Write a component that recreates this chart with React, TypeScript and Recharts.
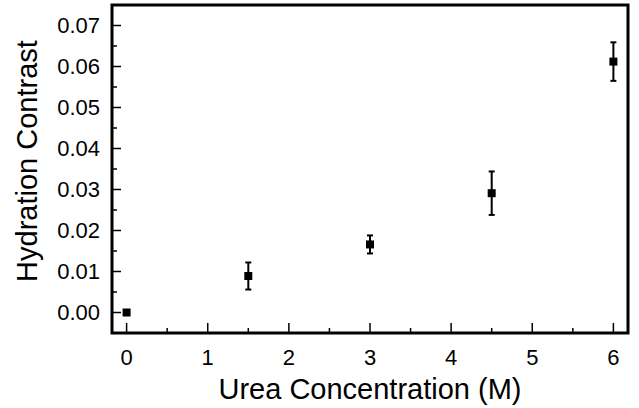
import {
  ScatterChart,
  Scatter,
  XAxis,
  YAxis,
  ZAxis,
  ErrorBar,
  ReferenceArea,
} from 'recharts';

// urea concentration (M)
const concentrations = [0, 1.5, 3, 4.5, 6];
// hydration contrast and its error
const contrast = [0.0, 0.0089, 0.0166, 0.0291, 0.0612];
const contrastErr = [0.0, 0.0033, 0.0022, 0.0053, 0.0047];

const xMajorTicks = [0, 1, 2, 3, 4, 5, 6];
const xMinorTicks = [0.5, 1.5, 2.5, 3.5, 4.5, 5.5];
const yMajorTicks = [0, 0.01, 0.02, 0.03, 0.04, 0.05, 0.06, 0.07];
const yMinorTicks = [0.005, 0.015, 0.025, 0.035, 0.045, 0.055, 0.065];

const X_DOMAIN: [number, number] = [-0.18, 6.18];
const Y_DOMAIN: [number, number] = [-0.005, 0.075];

const FONT = '"Liberation Sans", Arial, Helvetica, sans-serif';
const Y_TICK_MARGIN = 12;
const X_TICK_MARGIN = 16;

const data = concentrations.map((c, i) => ({
  conc: c,
  value: contrast[i],
  err: contrastErr[i],
}));

function YTick(props: any) {
  const { x, y, payload } = props;
  const v = payload.value as number;
  const major = yMajorTicks.some((t) => Math.abs(t - v) < 1e-9);
  const axisX = x + Y_TICK_MARGIN;
  return (
    <g>
      <line x1={axisX} x2={axisX + (major ? 9 : 5)} y1={y} y2={y} stroke="#000" strokeWidth={1.5} />
      {major && (
        <text x={x} y={y} dy="0.36em" textAnchor="end" fontSize={22} fontFamily={FONT} fill="#000">
          {v.toFixed(2)}
        </text>
      )}
    </g>
  );
}

function XTick(props: any) {
  const { x, y, payload } = props;
  const v = payload.value as number;
  const major = xMajorTicks.some((t) => Math.abs(t - v) < 1e-9);
  const axisY = y - X_TICK_MARGIN;
  return (
    <g>
      <line x1={x} x2={x} y1={axisY} y2={axisY - (major ? 10 : 5)} stroke="#000" strokeWidth={1.5} />
      {major && (
        <text x={x} y={y} dy="0.71em" textAnchor="middle" fontSize={22} fontFamily={FONT} fill="#000">
          {v}
        </text>
      )}
    </g>
  );
}

function YLabel(props: any) {
  const vb = props.viewBox;
  const cx = vb.x + 27;
  const cy = vb.y + vb.height / 2 - 8;
  return (
    <text
      x={cx}
      y={cy}
      dy="0.355em"
      transform={`rotate(-90, ${cx}, ${cy})`}
      textAnchor="middle"
      fontSize={29}
      fontFamily={FONT}
      fill="#000"
    >
      Hydration Contrast
    </text>
  );
}

function XLabel(props: any) {
  const vb = props.viewBox;
  return (
    <text
      x={vb.x + vb.width / 2}
      y={vb.y + 66}
      textAnchor="middle"
      fontSize={29}
      fontFamily={FONT}
      fill="#000"
    >
      Urea Concentration (M)
    </text>
  );
}

export default function App() {
  return (
    <div style={{ position: 'absolute', left: 0, top: 0, background: '#fff' }}>
      <ScatterChart width={639} height={408} margin={{ top: 5, right: 11, bottom: 0, left: 0 }}>
        <XAxis
          type="number"
          dataKey="conc"
          domain={X_DOMAIN}
          ticks={[...xMajorTicks, ...xMinorTicks].sort((a, b) => a - b)}
          interval={0}
          height={75}
          axisLine={false}
          tickLine={false}
          tickSize={0}
          tickMargin={X_TICK_MARGIN}
          tick={(p: any) => <XTick {...p} />}
          label={{ content: (p: any) => <XLabel {...p} /> }}
          allowDataOverflow
        />
        <YAxis
          type="number"
          dataKey="value"
          domain={Y_DOMAIN}
          ticks={[...yMajorTicks, ...yMinorTicks].sort((a, b) => a - b)}
          interval={0}
          width={112}
          axisLine={false}
          tickLine={false}
          tickSize={0}
          tickMargin={Y_TICK_MARGIN}
          tick={(p: any) => <YTick {...p} />}
          label={{ content: (p: any) => <YLabel {...p} /> }}
          allowDataOverflow
        />
        <ZAxis range={[90, 90]} />
        <ReferenceArea
          x1={X_DOMAIN[0]}
          x2={X_DOMAIN[1]}
          y1={Y_DOMAIN[0]}
          y2={Y_DOMAIN[1]}
          fill="none"
          stroke="#000"
          strokeWidth={3}
        />
        <Scatter data={data} fill="#000" shape="square" isAnimationActive={false}>
          <ErrorBar dataKey="err" direction="y" width={3} stroke="#000" strokeWidth={2} isAnimationActive={false} />
        </Scatter>
      </ScatterChart>
    </div>
  );
}
